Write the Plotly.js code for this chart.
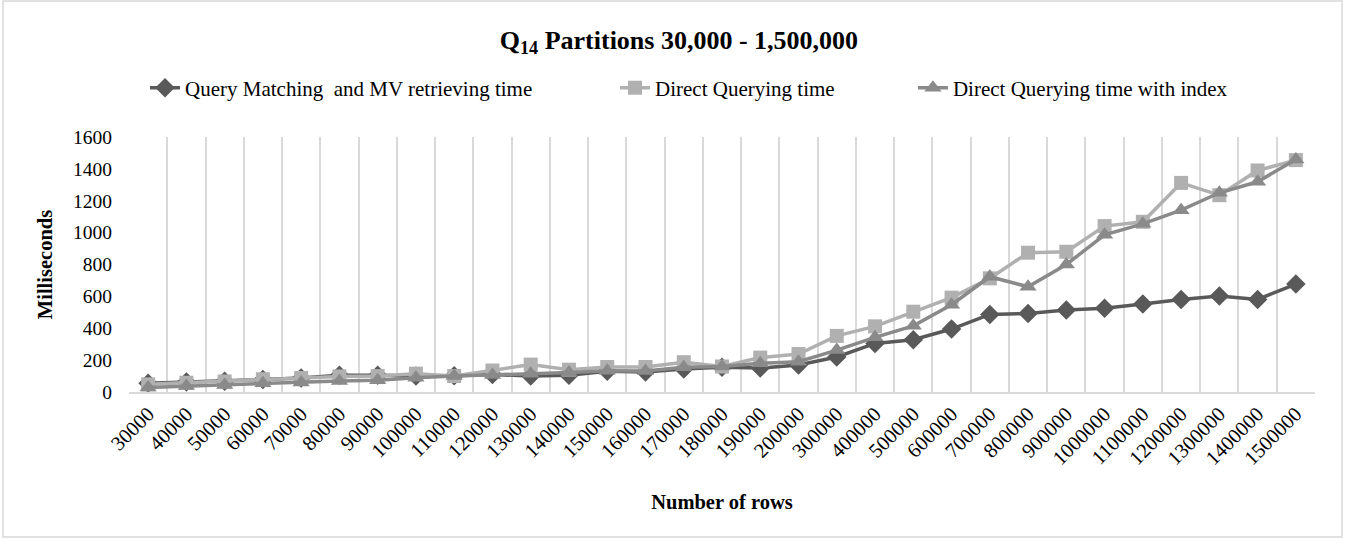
<!DOCTYPE html>
<html>
<head>
<meta charset="utf-8">
<script src="https://cdn.plot.ly/plotly-3.0.1.min.js"></script>
<style>
  html, body { margin: 0; padding: 0; background: #ffffff; }
  #chart { width: 1351px; height: 539px; }
</style>
</head>
<body>
<div id="chart"></div>
<script>
// Categories (number of rows)
const rows = ["30000","40000","50000","60000","70000","80000","90000","100000","110000","120000",
  "130000","140000","150000","160000","170000","180000","190000","200000","300000","400000",
  "500000","600000","700000","800000","900000","1000000","1100000","1200000","1300000","1400000","1500000"];

// Query Matching and MV retrieving time (ms)
const mvTime = [55, 62, 68, 78, 88, 105, 105, 100, 102, 110,
  100, 105, 130, 125, 145, 155, 150, 170, 220, 305,
  328, 395, 487, 493, 514, 525, 552, 581, 602, 581, 677];

// Direct Querying time (ms)
const directTime = [48, 58, 66, 80, 88, 98, 100, 115, 100, 135,
  172, 140, 157, 157, 187, 160, 216, 238, 352, 412,
  504, 592, 713, 874, 880, 1041, 1068, 1312, 1235, 1390, 1455];

// Direct Querying time with index (ms)
const indexTime = [29, 38, 44, 55, 60, 69, 74, 90, 100, 107,
  115, 122, 134, 132, 155, 160, 180, 190, 263, 343,
  415, 548, 723, 660, 800, 986, 1055, 1141, 1250, 1319, 1459];

const seriesNames = ["Query Matching  and MV retrieving time", "Direct Querying time", "Direct Querying time with index"];
const yTicks = [0, 200, 400, 600, 800, 1000, 1200, 1400, 1600];

const FONT = "'Liberation Serif', 'Times New Roman', serif";

const traces = [
  {
    x: rows, y: mvTime, name: seriesNames[0], type: "scatter", mode: "lines+markers",
    legend: "legend",
    line: { color: "#595959", width: 3.5 },
    marker: { symbol: "diamond", size: 15, color: "#595959" }
  },
  {
    x: rows, y: directTime, name: seriesNames[1], type: "scatter", mode: "lines+markers",
    legend: "legend2",
    line: { color: "#B0B0B0", width: 3.5 },
    marker: { symbol: "square", size: 14, color: "#B0B0B0" }
  },
  {
    x: rows, y: indexTime, name: seriesNames[2], type: "scatter", mode: "lines+markers",
    legend: "legend3",
    line: { color: "#8A8A8A", width: 3.5 },
    marker: { symbol: "triangle-up", size: 15, color: "#8A8A8A" }
  }
];

function legendAt(x) {
  return {
    orientation: "h", x: x, xanchor: "left", y: 1.192, yanchor: "middle",
    font: { family: FONT, size: 21, color: "#000000" },
    bgcolor: "rgba(0,0,0,0)", borderwidth: 0
  };
}

const layout = {
  width: 1351, height: 539,
  paper_bgcolor: "#ffffff", plot_bgcolor: "#ffffff",
  font: { family: FONT, color: "#000000", size: 19 },
  margin: { l: 129, r: 36, t: 137, b: 147 },
  title: {
    text: "<b>Q<sub>14</sub> Partitions 30,000 - 1,500,000</b>",
    font: { family: FONT, size: 26, color: "#000000" },
    xref: "paper", x: 0.4637, xanchor: "center",
    yref: "container", y: 0.926, yanchor: "middle"
  },
  showlegend: true,
  legend: legendAt(0.0135),
  legend2: legendAt(0.4098),
  legend3: legendAt(0.661),
  xaxis: {
    type: "category",
    range: [-0.5, rows.length - 0.5],
    tickson: "boundaries",
    showgrid: true, gridcolor: "#D9D9D9", gridwidth: 2,
    showline: true, linecolor: "#D9D9D9", linewidth: 2,
    ticks: "", tickangle: -45,
    tickfont: { family: FONT, size: 20.5, color: "#000000" },
    title: { text: "<b>Number of rows</b>", font: { family: FONT, size: 20.5, color: "#000000" }, standoff: 26 },
    zeroline: false, fixedrange: true
  },
  yaxis: {
    range: [0, 1600],
    tickvals: yTicks,
    showgrid: false, zeroline: false, showline: false,
    ticks: "", ticklabelstandoff: 16,
    tickfont: { family: FONT, size: 19.5, color: "#000000" },
    title: { text: "<b>Milliseconds</b>", font: { family: FONT, size: 20.5, color: "#000000" }, standoff: 14 },
    fixedrange: true
  },
  shapes: [{
    type: "rect", xref: "paper", yref: "paper",
    x0: -0.1062, x1: 1.0228, y0: -0.5686, y1: 1.5333,
    line: { color: "#D9D9D9", width: 1.5 }, fillcolor: "rgba(0,0,0,0)", layer: "below"
  }]
};

Plotly.newPlot("chart", traces, layout, { displayModeBar: false, staticPlot: true });
</script>
</body>
</html>
